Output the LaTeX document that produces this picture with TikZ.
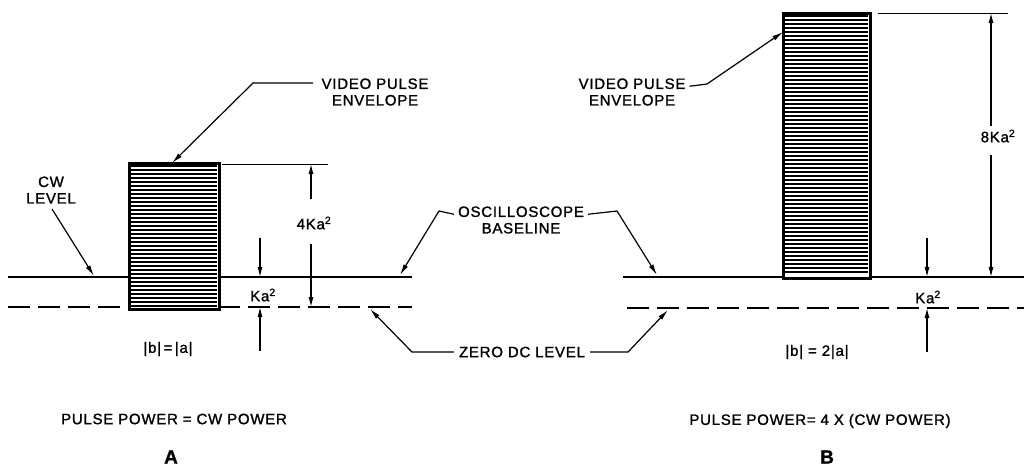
\documentclass[tikz,border=0pt]{standalone}
\usepackage{fontspec}
\setmainfont{Liberation Sans}[LetterSpace=5,FakeBold=1.3]
\usetikzlibrary{arrows.meta,calc}
\begin{document}
\begin{tikzpicture}[x=1pt,y=-1pt,
  lbl/.style={font=\fontsize{15}{16.5}\selectfont,inner sep=0pt,align=center},
  biglbl/.style={font=\fontsize{19}{20}\selectfont\bfseries,inner sep=0pt},
  base/.style={line width=1.8pt},
  zero/.style={line width=1.4pt,dash pattern=on 22pt off 8pt},
  ext/.style={line width=0.9pt},
  lead/.style={line width=1.2pt,-{Latex[length=11pt,width=5pt]}},
  dim/.style={line width=1.1pt,-{Latex[length=10pt,width=5pt]}},
  hatch/.style={line width=2.6pt},
  pulse/.style={draw,line width=1.8pt,fill=white}]
\useasboundingbox (0,0) rectangle (1024,467);

% ---------- Panel A ----------
\draw[base] (8,277) -- (412,277);
\draw[zero] (8,307) -- (412,307);
\node[pulse,minimum width=89pt,minimum height=145pt,anchor=north west] (pA) at (129,163) {};
\foreach \yy in {166,170,...,306} \draw[hatch] (130,\yy) -- (217,\yy);
\draw[line width=2pt] (pA.south west) rectangle (pA.north east);

% dimension 4Ka^2
\draw[ext] (222,164) -- (328,164);
\node[lbl] (fourK) at (314,223) {4Ka\textsuperscript{2}};
\coordinate (fourKt) at (311,164);
\coordinate (fourKb) at (311,307);
\draw[dim] (fourK.north -| fourKt) ++(0,-17) -- (fourKt);
\draw[dim] (fourK.south -| fourKb) ++(0,14) -- (fourKb);

% dimension Ka^2 (A)
\node[lbl] (kA) at (263,295) {Ka\textsuperscript{2}};
\coordinate (kAt) at (260,277);
\coordinate (kAb) at (260,307);
\coordinate (kAts) at (260,238);
\coordinate (kAbs) at (260,351);
\draw[dim] (kAts) -- (kAt);
\draw[dim] (kAbs) -- (kAb);

\node[lbl] (eqA) at (168,349) {|b|\,=\,|a|};

% CW level
\node[lbl] (cw) at (51,190) {CW\\LEVEL};
\coordinate (cwt) at (94,276);
\draw[lead] (52,209) -- (cwt);

% video pulse envelope A
\node[lbl] (vpeA) at (375,92) {VIDEO PULSE\\ENVELOPE};
\coordinate (vpeAt) at (172,163);
\draw[lead] (313,83) -- (253,83) -- (vpeAt);

% ---------- Middle labels ----------
\node[lbl] (osc) at (521,220) {OSCILLOSCOPE\\BASELINE};
\coordinate (oscL) at (400,275);
\coordinate (oscR) at (657,275);
\draw[lead] (osc.north west) ++(-4,8) -- (439,211) -- (oscL);
\draw[lead] (osc.north east) ++(4,8) -- (617,211) -- (oscR);

\node[lbl] (zdc) at (522,352) {ZERO DC LEVEL};
\coordinate (zdcL) at (370,309);
\coordinate (zdcR) at (668,310);
\draw[lead] (zdc.west) ++(-5,0) -- (412,352) -- (zdcL);
\draw[lead] (zdc.east) ++(5,0) -- (628,352) -- (zdcR);

% ---------- Panel B ----------
\draw[base] (623,277) -- (1024,277);
\draw[zero] (627,308) -- (1024,308);
\node[pulse,minimum width=86pt,minimum height=264pt,anchor=north west] (pB) at (783,13) {};
\foreach \yy in {16,20,...,275} \draw[hatch] (784,\yy) -- (868,\yy);
\draw[line width=2pt] (pB.south west) rectangle (pB.north east);

% dimension 8Ka^2
\draw[ext] (878,13) -- (1008,13);
\node[lbl] (eightK) at (998,136) {8Ka\textsuperscript{2}};
\coordinate (eightKt) at (991,13);
\coordinate (eightKb) at (991,277);
\draw[dim] (991,126) -- (eightKt);
\draw[dim] (991,155) -- (eightKb);

% dimension Ka^2 (B)
\node[lbl] (kB) at (928,297) {Ka\textsuperscript{2}};
\coordinate (kBt) at (927,277);
\coordinate (kBb) at (927,308);
\coordinate (kBts) at (927,238);
\coordinate (kBbs) at (927,352);
\draw[dim] (kBts) -- (kBt);
\draw[dim] (kBbs) -- (kBb);

\node[lbl] (eqB) at (817,352) {|b|\,\,=\,\,2|a|};

% video pulse envelope B
\node[lbl] (vpeB) at (632,92) {VIDEO PULSE\\ENVELOPE};
\coordinate (vpeBt) at (783,32);
\draw[lead] (vpeB.north east) ++(4,8) -- (707,84) -- (vpeBt);

% ---------- captions ----------
\node[lbl] (capA) at (174,419) {PULSE POWER = CW POWER};
\node[biglbl] (letA) at (171,457) {A};
\node[lbl] (capB) at (820,421) {PULSE POWER= 4 X (CW POWER)};
\node[biglbl] (letB) at (827,457) {B};
\end{tikzpicture}
\end{document}
